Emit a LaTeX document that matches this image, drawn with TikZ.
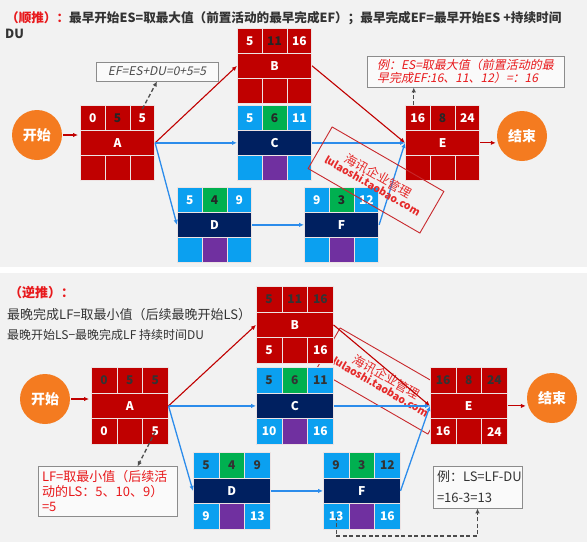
\documentclass[tikz,border=0pt]{standalone}
\usepackage{fontspec}
\setmainfont{Noto Sans CJK SC}
\newfontfamily\slfont[FakeSlant=0.2]{Noto Sans CJK SC}
\usetikzlibrary{arrows.meta}
\definecolor{bg}{HTML}{F2F2F2}
\definecolor{dred}{HTML}{C00000}
\definecolor{lblue}{HTML}{0BA0F0}
\definecolor{navy}{HTML}{002060}
\definecolor{grn}{HTML}{00B050}
\definecolor{purp}{HTML}{7030A0}
\definecolor{orng}{HTML}{F47B20}
\definecolor{arrblue}{HTML}{2C8CEB}
\definecolor{wmred}{HTML}{E52A2A}
\definecolor{wmline}{HTML}{C8282C}
\definecolor{txtred}{HTML}{E8191C}
\definecolor{dgray}{HTML}{333333}
\definecolor{celline}{HTML}{EDE3E3}
\newcommand\nfont{\bfseries\fontsize{12}{12}\selectfont}
\newcommand\actbox[8]{%
  \node[cell,#4tl,numl] (#1-tl) at ({#2},{#3}) {#5};
  \node[cell,#4tm,numm] (#1-tm) at ({#2+\cw},{#3}) {#6};
  \node[cell,#4tr,numr] (#1-tr) at ({#2+2*\cw},{#3}) {#7};
  \node[cell,#4mid,midlab,minimum width={3*\cw pt}] (#1) at ({#2},{#3+\ch}) {#8};
  \node[cell,#4bl] (#1-bl) at ({#2},{#3+2*\ch}) {};
  \node[cell,#4bm] (#1-bm) at ({#2+\cw},{#3+2*\ch}) {};
  \node[cell,#4br] (#1-br) at ({#2+2*\cw},{#3+2*\ch}) {};
}
\newcommand\actbot[3]{%
  \node[numb] (#1-blt) at (#1-bl) {#2};
  \node[numb] (#1-brt) at (#1-br) {#3};
}
\tikzset{
  cell/.style={draw=celline, line width=0.7pt, anchor=north west, inner sep=0pt,
    minimum width=\cw pt, minimum height=\ch pt, font=\nfont},
  redtl/.style={fill=dred}, redtm/.style={fill=dred}, redtr/.style={fill=dred},
  redmid/.style={fill=dred}, redbl/.style={fill=dred}, redbm/.style={fill=dred}, redbr/.style={fill=dred},
  bluetl/.style={fill=lblue}, bluetm/.style={fill=grn}, bluetr/.style={fill=lblue},
  bluemid/.style={fill=navy}, bluebl/.style={fill=lblue}, bluebm/.style={fill=purp}, bluebr/.style={fill=lblue},
  midlab/.style={text=white},
  numb/.style={text=white, font=\nfont, inner sep=0pt},
  circ/.style={circle, fill=orng, minimum size=50pt, inner sep=0pt, text=white,
    font=\bfseries\fontsize{14}{14}\selectfont},
  redarr/.style={draw=dred, line width=1.1pt, -{Latex[length=5pt,width=4.5pt]}},
  bluearr/.style={draw=arrblue, line width=1.3pt, -{Latex[length=5pt,width=4.5pt]}},
  dasharr/.style={draw=black!70, line width=1.3pt, dash pattern=on 4pt off 2.5pt,
    -{Latex[length=5pt,width=4.5pt]}},
  wmark/.style={draw=wmline, line width=0.9pt, rotate=-30, minimum width=129pt,
    minimum height=48pt, align=center, text=wmred, inner sep=2pt},
  exbox/.style={draw=black!45, fill=white!60!bg, line width=0.8pt, inner sep=3pt},
}
\newcommand\wmtext{{\fontsize{12.5}{15}\selectfont 海讯企业管理}\\[-1pt]{\bfseries\fontsize{10.5}{12}\selectfont lulaoshi.taobao.com}}
\begin{document}
\begin{tikzpicture}[x=1pt,y=-1pt]
\useasboundingbox (0,0) rectangle (587,542);
\fill[white] (0,0) rectangle (587,542);
\fill[bg] (0,0) rectangle (587,267);
\fill[bg] (0,273) rectangle (587,542);

% ---------------- top panel ----------------
\node[anchor=base west, inner sep=0pt, text=dgray] (t1) at (6,22)
  {\bfseries\fontsize{12.6}{13}\selectfont\textcolor{txtred}{（顺推）：}最早开始ES=取最大值（前置活动的最早完成EF）；最早完成EF=最早开始ES +持续时间};
\node[anchor=base west, inner sep=0pt, text=dgray] (t2) at (5,38)
  {\bfseries\fontsize{12.6}{13}\selectfont DU};

\begin{scope}[numl/.style={text=white}, numm/.style={text=black!85}, numr/.style={text=white}]
\def\cw{24.8}\def\ch{25}
\actbox{A}{80}{105}{red}{0}{5}{5}{A}
\actbox{B}{237}{28}{red}{5}{11}{16}{B}
\actbox{C}{237}{105}{blue}{5}{6}{11}{C}
\actbox{D}{177}{187}{blue}{5}{4}{9}{D}
\actbox{F}{304}{187}{blue}{9}{3}{12}{F}
\actbox{E}{405}{105}{red}{16}{8}{24}{E}
\end{scope}

\node[circ] (s1) at (37,135) {开始};
\node[circ] (e1) at (522,136) {结束};

\node[exbox, minimum width=122pt, minimum height=19pt, text=black!70,
  font=\slfont\fontsize{12}{12}\selectfont] (ef) at (157,71.5) {EF=ES+DU=0+5=5};
\node[exbox, minimum width=197pt, minimum height=31pt, text=txtred, align=left,
  font=\slfont\fontsize{12}{13}\selectfont] (ex1) at (465.5,71.5)
  {例：ES=取最大值（前置活动的最\\早完成EF:16、11、12）=：16};

\draw[redarr, shorten <=1pt, shorten >=2pt] (s1.east) -- (s1.east -| A.west);
\draw[redarr] (A.east) -- (B.west);
\draw[bluearr] (A.east) -- (C.west);
\draw[bluearr] (A.east) -- (D.west);
\draw[redarr] (B.east) -- (E.west);
\draw[bluearr] (C.east) -- (E.west);
\draw[bluearr] (D.east) -- (F.west);
\draw[bluearr] (F.east) -- (E.west);
\draw[redarr, shorten >=1pt] (E.east) -- (E.east -| e1.west);
\draw[dasharr] ([yshift=-4pt]A-tr.north) -- ([xshift=0pt]ef.south);
\draw[dasharr] ([xshift=-4pt]E-tl.north) -- ([xshift=-4pt]E-tl.north |- ex1.south);

\node[wmark] (wm1) at (376,180) {\wmtext};

% ---------------- bottom panel ----------------
\node[anchor=base west, inner sep=0pt, text=txtred] (b1) at (9,297)
  {\bfseries\fontsize{13}{13}\selectfont（逆推）：};
\node[anchor=base west, inner sep=0pt, text=dgray] (b2) at (7,319)
  {\fontsize{13}{13}\selectfont 最晚完成LF=取最小值（后续最晚开始LS）};
\node[anchor=base west, inner sep=0pt, text=dgray] (b3) at (7,339)
  {\fontsize{12}{12}\selectfont 最晚开始LS−最晚完成LF 持续时间DU};

\node[wmark] (wm2) at (384,381) {\wmtext};

\begin{scope}[numl/.style={text=black!80}, numm/.style={text=black!80}, numr/.style={text=black!80}]
\def\cw{25.6}\def\ch{25.7}
\actbox{A2}{91}{367}{red}{0}{5}{5}{A}
\actbox{B2}{256}{286}{red}{5}{11}{16}{B}
\actbox{C2}{256}{367}{blue}{5}{6}{11}{C}
\actbox{D2}{193}{452}{blue}{5}{4}{9}{D}
\actbox{F2}{323}{452}{blue}{9}{3}{12}{F}
\actbox{E2}{430}{367}{red}{16}{8}{24}{E}
\end{scope}
\actbot{A2}{0}{5}
\actbot{B2}{5}{16}
\actbot{C2}{10}{16}
\actbot{D2}{9}{13}
\actbot{F2}{13}{16}
\actbot{E2}{16}{24}

\node[circ] (s2) at (45,399) {开始};
\node[circ] (e2) at (552,398) {结束};

\node[exbox, minimum width=139pt, minimum height=49pt, text width=131pt, text=txtred,
  align=left, inner sep=4pt, font=\fontsize{13}{15}\selectfont] (lf) at (107.5,491.5)
  {LF=取最小值（后续活\\动的LS：5、10、9）\\=5};
\node[exbox, text width=81pt, minimum height=42pt, inner sep=4pt, text=dgray, align=left,
  font=\fontsize{13}{21}\selectfont] (ls) at (477.5,487) {\mbox{例：LS=LF-DU}\\\mbox{=16-3=13}};
\coordinate (lsturn) at (0,536);

\draw[redarr, shorten <=1pt, shorten >=2pt] (s2.east) -- (s2.east -| A2.west);
\draw[redarr] (A2.east) -- (B2.west);
\draw[bluearr] (A2.east) -- (C2.west);
\draw[bluearr] (A2.east) -- (D2.west);
\draw[redarr] (B2.east) -- (E2.west);
\draw[bluearr] (C2.east) -- (E2.west);
\draw[bluearr] (D2.east) -- (F2.west);
\draw[bluearr] (F2.east) -- (E2.west);
\draw[redarr, shorten >=1pt] (E2.east) -- (E2.east -| e2.west);
\draw[dasharr] (A2-br.center) -- ([xshift=30pt]lf.north);
\draw[dasharr] (F2-bl.center) -- (F2-bl.center |- lsturn) -| (ls.south);
\end{tikzpicture}
\end{document}
